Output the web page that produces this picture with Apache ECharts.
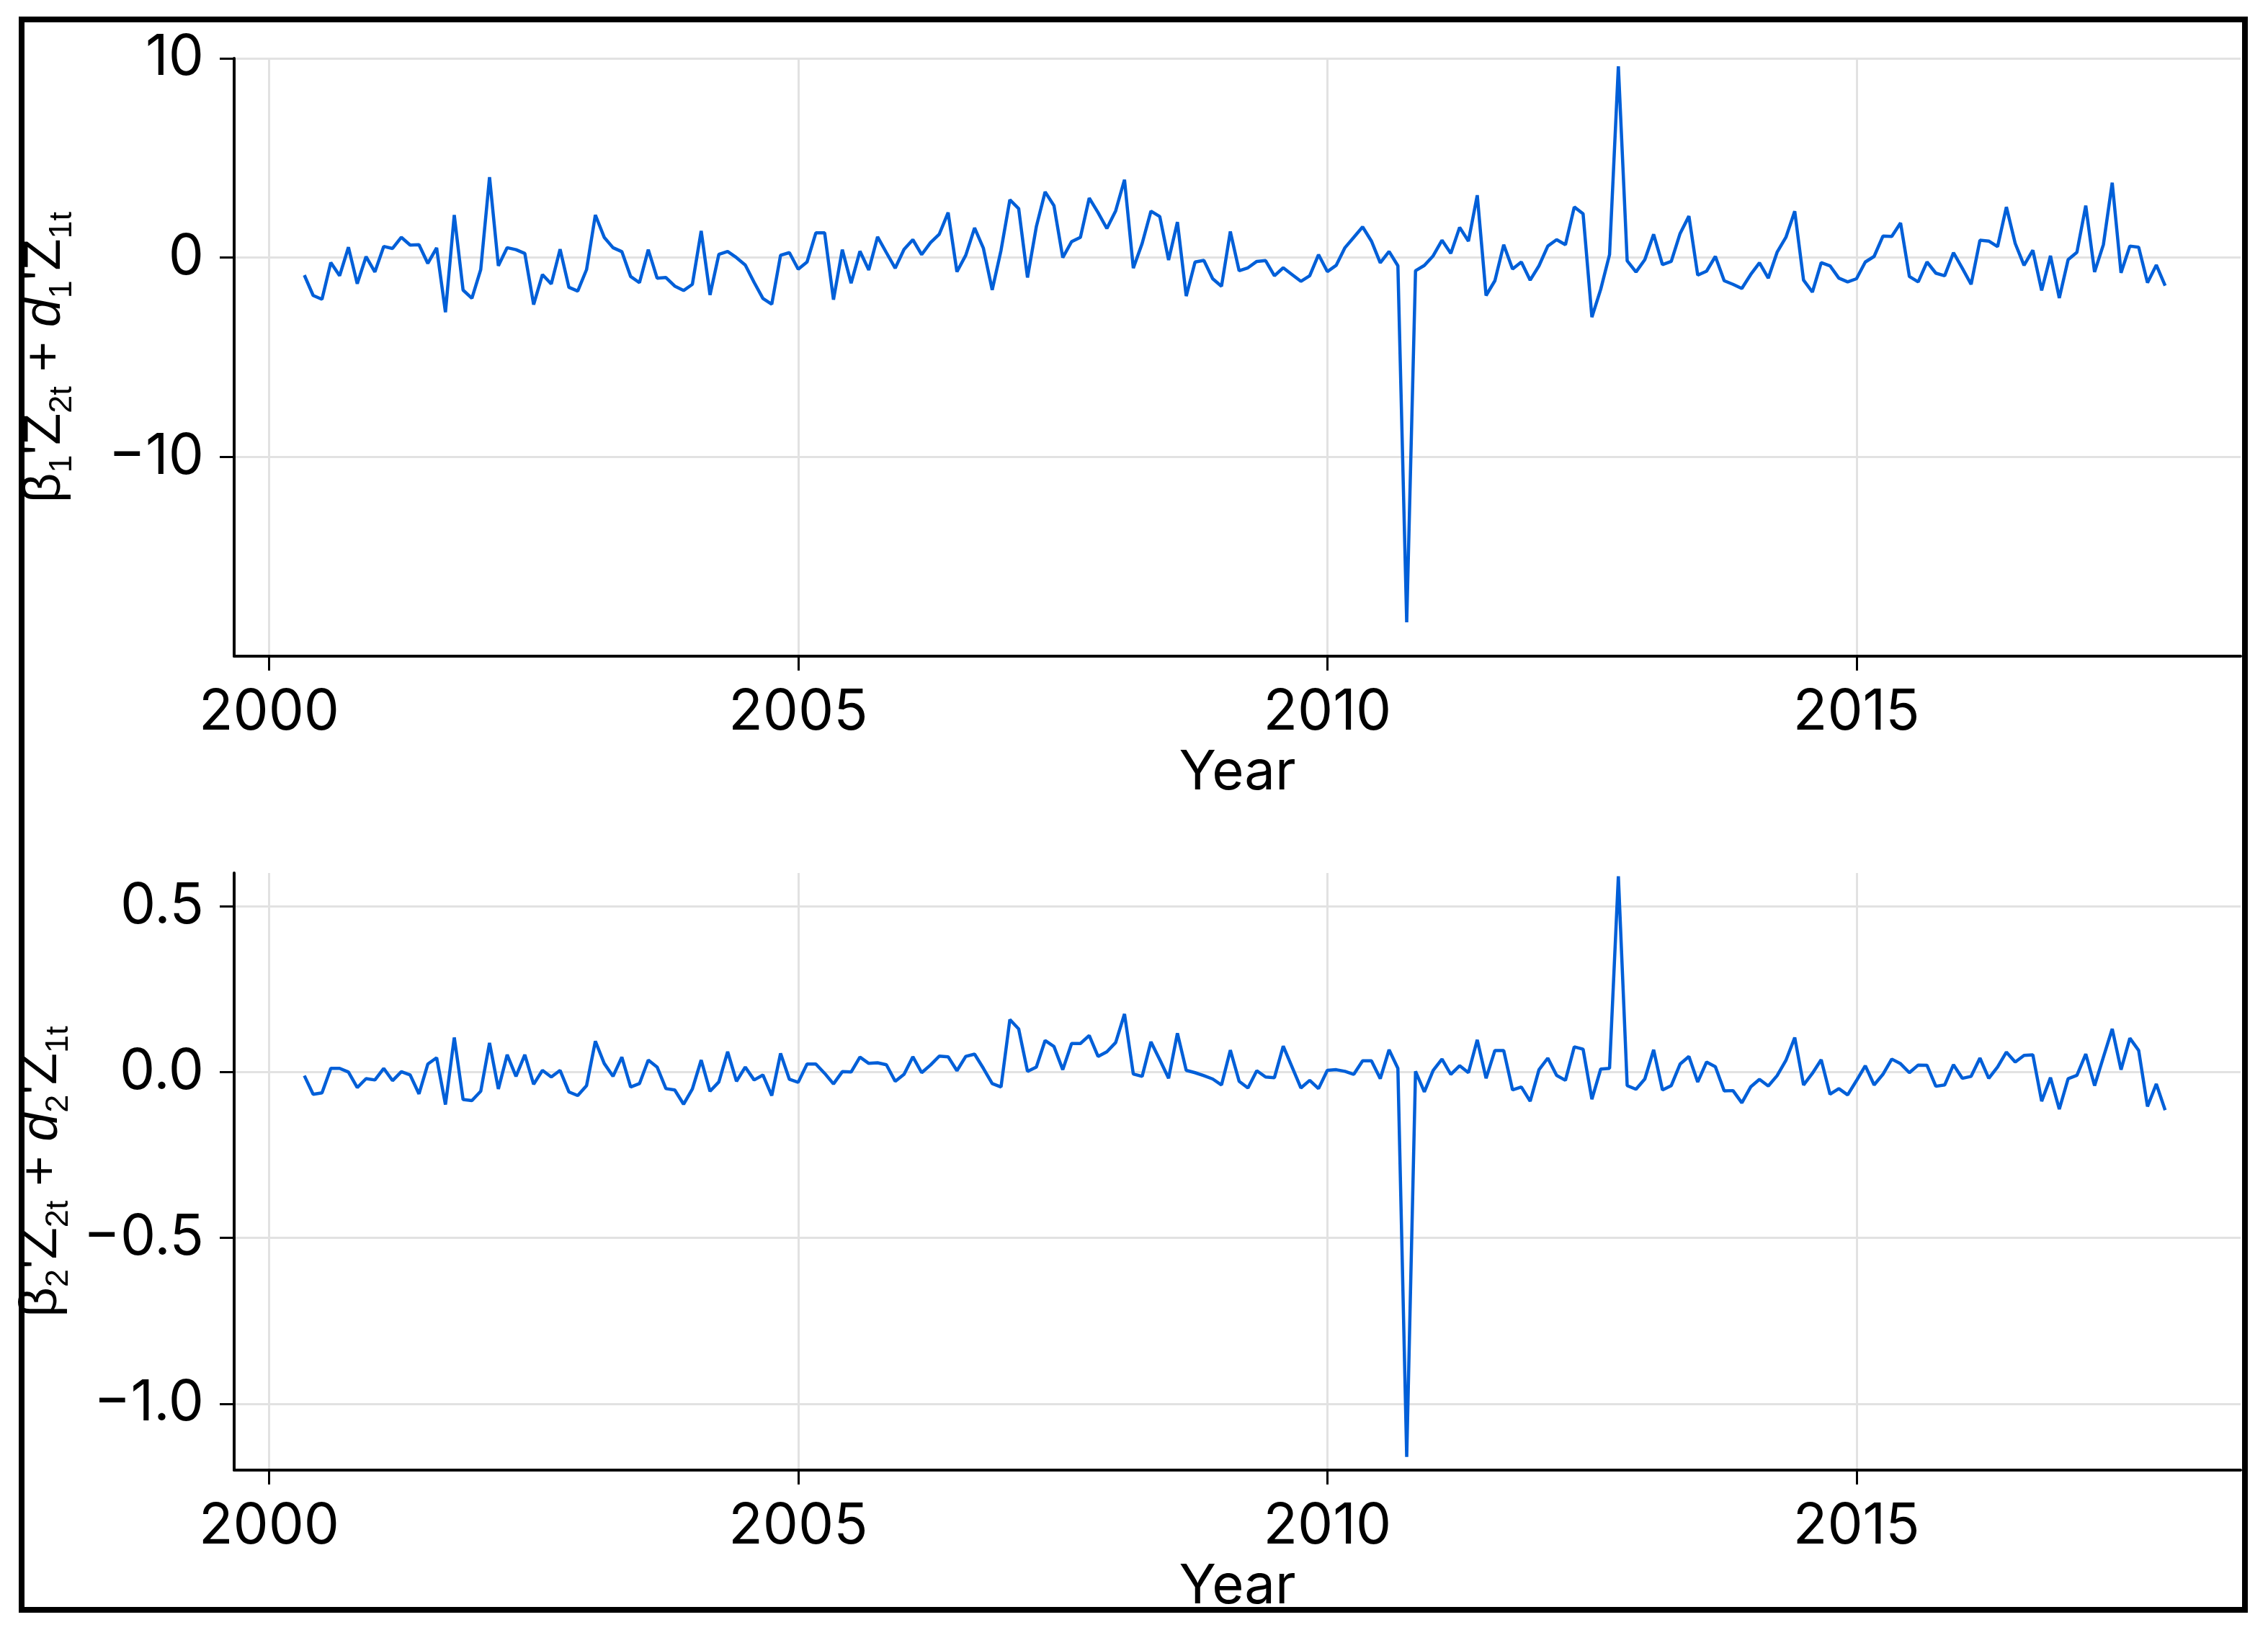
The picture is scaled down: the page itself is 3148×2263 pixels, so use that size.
<!DOCTYPE html>
<html><head><meta charset="utf-8">
<script src="https://cdn.jsdelivr.net/npm/echarts@6/dist/echarts.min.js"></script>
<style>html,body{margin:0;padding:0;background:#fff}#c{width:3148px;height:2263px}</style>
</head><body><div id="c"></div>
<script>
// monthly series, first observation May 2000
const startYear = 2000;
const startMonth = 5;
const xTicks = [2000, 2005, 2010, 2015];
const yTicksTop = [-10, 0, 10];
const yTicksBottom = [-1.0, -0.5, 0.0, 0.5];
const xLabel = 'Year';

const seriesTop = [
-0.88,-1.90,-2.09,-0.25,-0.91,0.52,-1.31,0.05,-0.72,0.56,
0.46,1.02,0.63,0.65,-0.29,0.49,-2.74,2.14,-1.63,-2.04,
-0.60,4.04,-0.41,0.50,0.40,0.21,-2.36,-0.85,-1.32,0.42,
-1.49,-1.68,-0.60,2.14,1.02,0.50,0.30,-0.95,-1.26,0.40,
-1.03,-1.00,-1.43,-1.65,-1.34,1.34,-1.87,0.16,0.31,0.00,
-0.37,-1.24,-2.05,-2.34,0.12,0.25,-0.58,-0.22,1.24,1.24,
-2.11,0.40,-1.28,0.32,-0.62,1.04,0.25,-0.53,0.41,0.90,
0.15,0.75,1.18,2.26,-0.71,0.12,1.49,0.47,-1.62,0.37,
2.90,2.46,-1.00,1.55,3.30,2.61,0.00,0.80,1.02,2.99,
2.26,1.46,2.35,3.91,-0.53,0.71,2.33,2.06,-0.12,1.79,
-1.93,-0.22,-0.14,-1.06,-1.44,1.31,-0.66,-0.51,-0.19,-0.15,
-0.91,-0.51,-0.85,-1.19,-0.91,0.15,-0.70,-0.39,0.50,1.02,
1.54,0.83,-0.26,0.31,-0.41,-18.3,-0.66,-0.39,0.09,0.87,
0.21,1.52,0.83,3.13,-1.90,-1.16,0.65,-0.57,-0.22,-1.13,
-0.41,0.58,0.90,0.65,2.54,2.20,-2.99,-1.59,0.15,9.6,
-0.16,-0.72,-0.10,1.17,-0.35,-0.19,1.21,2.08,-0.88,-0.68,
0.06,-1.16,-1.34,-1.55,-0.85,-0.26,-1.03,0.27,1.02,2.33,
-1.13,-1.73,-0.25,-0.41,-1.03,-1.22,-1.06,-0.22,0.06,1.08,
1.06,1.74,-0.95,-1.22,-0.22,-0.78,-0.91,0.25,-0.53,-1.34,
0.87,0.83,0.55,2.54,0.71,-0.39,0.37,-1.65,0.09,-2.03,
-0.10,0.27,2.61,-0.72,0.65,3.76,-0.76,0.58,0.52,-1.26,
-0.37,-1.41
];

const seriesBottom = [
-0.011,-0.067,-0.063,0.011,0.011,0.000,-0.047,-0.020,-0.024,0.011,
-0.026,0.001,-0.009,-0.066,0.024,0.043,-0.098,0.104,-0.083,-0.086,
-0.058,0.088,-0.051,0.052,-0.013,0.052,-0.037,0.005,-0.015,0.005,
-0.060,-0.071,-0.041,0.093,0.026,-0.013,0.045,-0.045,-0.035,0.036,
0.015,-0.050,-0.054,-0.097,-0.051,0.036,-0.058,-0.030,0.061,-0.028,
0.015,-0.024,-0.009,-0.071,0.056,-0.022,-0.031,0.024,0.024,-0.004,
-0.036,0.001,0.000,0.045,0.026,0.028,0.022,-0.028,-0.007,0.046,
-0.002,0.021,0.048,0.046,0.004,0.047,0.054,0.011,-0.035,-0.045,
0.158,0.130,0.002,0.015,0.095,0.077,0.007,0.086,0.086,0.110,
0.047,0.061,0.089,0.175,-0.006,-0.013,0.091,0.037,-0.019,0.117,
0.005,-0.002,-0.011,-0.021,-0.039,0.066,-0.028,-0.048,0.004,-0.015,
-0.017,0.078,0.015,-0.048,-0.025,-0.050,0.005,0.007,0.002,-0.007,
0.034,0.034,-0.020,0.067,0.011,-1.16,0.002,-0.060,0.005,0.039,
-0.007,0.019,-0.002,0.097,-0.019,0.065,0.065,-0.054,-0.045,-0.088,
0.007,0.042,-0.010,-0.025,0.076,0.069,-0.082,0.009,0.011,0.59,
-0.041,-0.052,-0.021,0.067,-0.054,-0.041,0.024,0.047,-0.030,0.030,
0.016,-0.057,-0.056,-0.093,-0.045,-0.022,-0.042,-0.011,0.035,0.104,
-0.039,-0.004,0.037,-0.067,-0.050,-0.069,-0.026,0.019,-0.039,-0.007,
0.039,0.025,-0.002,0.021,0.020,-0.043,-0.039,0.022,-0.019,-0.013,
0.042,-0.019,0.015,0.060,0.030,0.050,0.052,-0.088,-0.017,-0.112,
-0.020,-0.010,0.054,-0.041,0.045,0.130,0.007,0.102,0.065,-0.104,
-0.036,-0.115
];

const toPairs = arr => arr.map((v, i) => [startYear + (startMonth - 1 + i) / 12, v]);
const minus = s => String(s).replace('-', '\u2212');

const FONT = 'Inter, "Liberation Sans", sans-serif';
const NAMEFONT = '"Liberation Sans Narrow", "Liberation Sans", sans-serif';
const lineColor = '#005fd8';
const gridColor = '#e2e2e2';

function nameRich(fs) {
  return {
    n: {fontSize: fs, fontFamily: NAMEFONT, color: '#000', lineHeight: 82, verticalAlign: 'top'},
    i: {fontSize: fs, fontFamily: NAMEFONT, fontStyle: 'italic', color: '#000', lineHeight: 82, verticalAlign: 'top'},
    s: {fontSize: Math.round(fs * 0.62), fontFamily: NAMEFONT, color: '#000', lineHeight: 44, verticalAlign: 'bottom'}
  };
}

function xAxisCfg(gridIndex) {
  return {
    type: 'value', gridIndex, min: 1999.67, max: 2018.63,
    name: xLabel, nameLocation: 'middle', nameGap: 124,
    nameTextStyle: {fontSize: 76, fontFamily: FONT, color: '#000'},
    axisLine: {show: true, onZero: false, lineStyle: {color: '#000', width: 4}},
    axisTick: {show: true, length: 20, lineStyle: {color: '#000', width: 3}, customValues: xTicks},
    axisLabel: {fontSize: 78, fontFamily: FONT, color: '#000', margin: 40, customValues: xTicks,
      formatter: v => String(Math.round(v))},
    splitLine: {show: true, lineStyle: {color: gridColor, width: 3}}
  };
}

function yAxisCfg(gridIndex, min, max, ticks, fmt, name) {
  return {
    type: 'value', gridIndex, min, max,
    name, nameLocation: 'middle', nameGap: 216, nameRotate: 90,
    nameTextStyle: {rich: nameRich(72)},
    axisLine: {show: true, onZero: false, lineStyle: {color: '#000', width: 4}},
    axisTick: {show: true, length: 20, lineStyle: {color: '#000', width: 3}, customValues: ticks},
    axisLabel: {fontSize: 78, fontFamily: FONT, color: '#000', margin: 42, customValues: ticks, formatter: fmt},
    splitLine: {show: true, lineStyle: {color: gridColor, width: 3}}
  };
}

const chart = echarts.init(document.getElementById('c'), null, {renderer: 'canvas'});
chart.setOption({
  backgroundColor: '#fff',
  animation: false,
  graphic: [{
    type: 'rect', shape: {x: 30, y: 27, width: 3086, height: 2208},
    style: {fill: 'none', stroke: '#000', lineWidth: 8}, z: 100
  }],
  grid: [
    {left: 325, right: 38, top: 81, height: 830},
    {left: 325, right: 38, top: 1212, height: 829}
  ],
  xAxis: [xAxisCfg(0), xAxisCfg(1)],
  yAxis: [
    yAxisCfg(0, -20, 10, yTicksTop, v => minus(Math.round(v)),
      "{n|β}{s|1}{n|'Z}{s|2t}{n| + }{i|d}{s|1}{n|'Z}{s|1t}"),
    yAxisCfg(1, -1.2, 0.6, yTicksBottom, v => minus(v.toFixed(1)),
      "{n|β}{s|2}{n|'Z}{s|2t}{n| + }{i|d}{s|2}{n|'Z}{s|1t}")
  ],
  series: [
    {type: 'line', xAxisIndex: 0, yAxisIndex: 0, data: toPairs(seriesTop), showSymbol: false, symbol: 'none',
     lineStyle: {color: lineColor, width: 4.5}, itemStyle: {color: lineColor}},
    {type: 'line', xAxisIndex: 1, yAxisIndex: 1, data: toPairs(seriesBottom), showSymbol: false, symbol: 'none',
     lineStyle: {color: lineColor, width: 4.5}, itemStyle: {color: lineColor}}
  ]
});
</script>
</body></html>
